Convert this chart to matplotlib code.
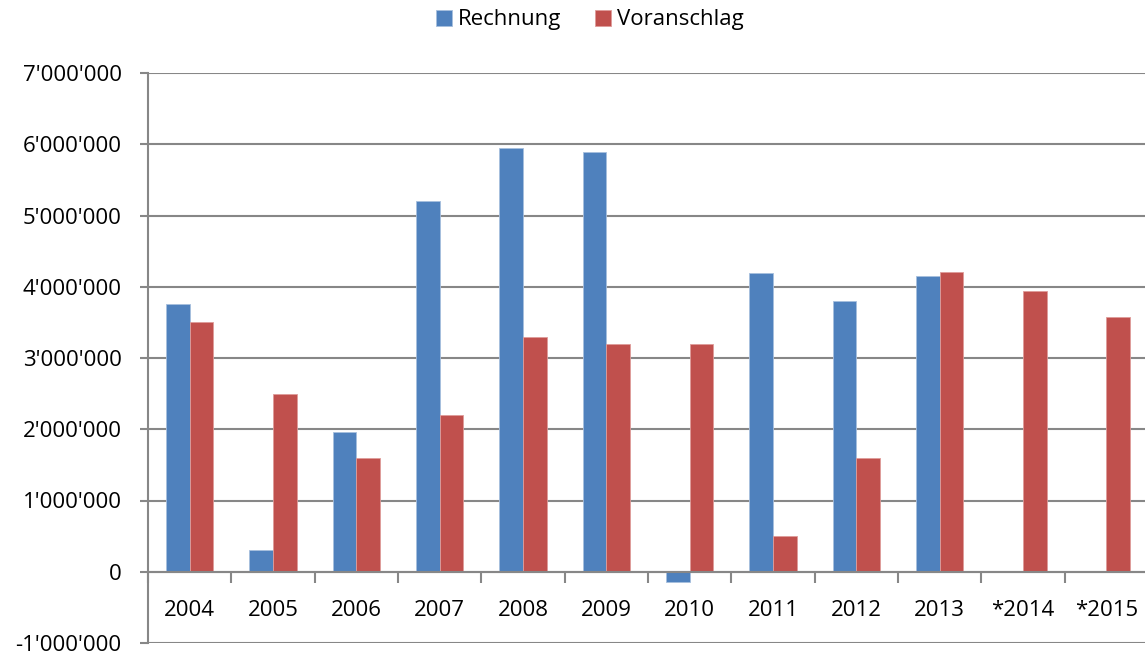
import matplotlib.pyplot as plt
import matplotlib.ticker as mticker
import numpy as np

plt.rcParams['font.family'] = ['Open Sans', 'DejaVu Sans']

jahre = ["2004", "2005", "2006", "2007", "2008", "2009", "2010",
         "2011", "2012", "2013", "*2014", "*2015"]
rechnung = [3760000, 310000, 1960000, 5200000, 5950000, 5890000, -140000,
            4200000, 3800000, 4150000, np.nan, np.nan]
voranschlag = [3500000, 2500000, 1600000, 2200000, 3300000, 3200000, 3200000,
               500000, 1600000, 4210000, 3940000, 3580000]

blau = "#4F81BD"
rot = "#C0504D"
grau = "#878787"

fig = plt.figure(figsize=(11.45, 6.55), dpi=100)
ax = fig.add_axes([148 / 1145, 1 - 643 / 655, 1 - 148 / 1145, (643 - 73) / 655])

x = np.arange(len(jahre))
b = 0.285
ax.bar(x - b / 2, rechnung, b, color=blau, edgecolor="#A7BFDE", linewidth=0.6,
       label="Rechnung", zorder=3)
ax.bar(x + b / 2, voranschlag, b, color=rot, edgecolor="#DE9C9A", linewidth=0.6,
       label="Voranschlag", zorder=3)

ax.set_ylim(-1000000, 7000000)
ax.set_xlim(-0.5, -0.5 + (1145 - 148) / 83.33)
ax.yaxis.set_major_locator(mticker.MultipleLocator(1000000))
ax.yaxis.set_major_formatter(mticker.FuncFormatter(
    lambda v, p: f"{int(v):,}".replace(",", "'")))
ax.grid(axis="y", color=grau, linewidth=1.5, zorder=0)

for s in ["top", "right"]:
    ax.spines[s].set_visible(False)
ax.spines["left"].set_color(grau)
ax.spines["left"].set_linewidth(1.5)
ax.spines["bottom"].set_position(("data", 0))
ax.spines["bottom"].set_color(grau)
ax.spines["bottom"].set_linewidth(1.5)
ax.spines["bottom"].set_zorder(4)

ax.tick_params(axis="y", length=6, width=1.5, color=grau, labelsize=16, pad=13)
ax.set_xticks(x)
ax.set_xticklabels(jahre)
ax.tick_params(axis="x", which="major", length=0, labelsize=16, pad=20)
ax.set_xticks(np.arange(len(jahre)) - 0.5, minor=True)
ax.tick_params(axis="x", which="minor", length=8, width=1.5, color=grau)

fig.legend(loc="center", bbox_to_anchor=(590 / 1145, 1 - 20 / 655), ncol=2,
           frameon=False, fontsize=16, handlelength=0.7, handleheight=0.7,
           handletextpad=0.3, columnspacing=1.5)

fig.savefig("out.png", dpi=100)
